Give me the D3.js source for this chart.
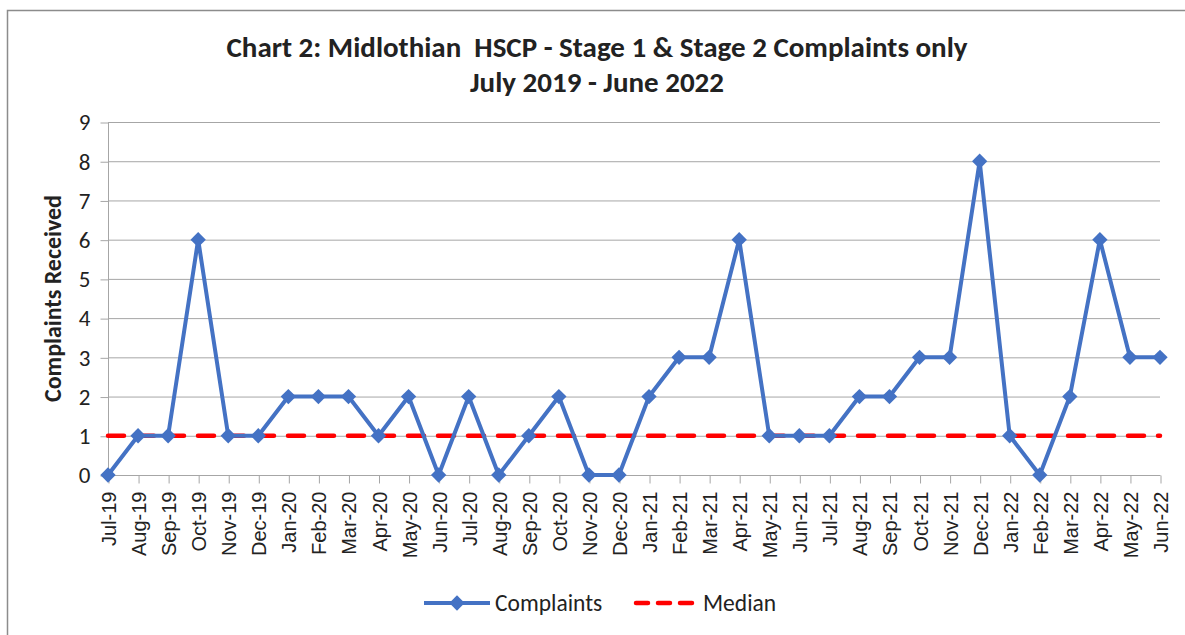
<!DOCTYPE html>
<html><head><meta charset="utf-8">
<script src="https://cdn.jsdelivr.net/npm/d3@7"></script>
<style>body{margin:0;background:#fff;}svg{display:block;} svg text{font-family:Carlito,Calibri,Lato,"Open Sans",sans-serif;} svg text.xl{font-family:"Liberation Sans",Arial,sans-serif;}</style>
</head><body><svg id="c" width="1185" height="635"></svg>
<script>
const months = ["Jul-19","Aug-19","Sep-19","Oct-19","Nov-19","Dec-19","Jan-20","Feb-20","Mar-20","Apr-20","May-20","Jun-20","Jul-20","Aug-20","Sep-20","Oct-20","Nov-20","Dec-20","Jan-21","Feb-21","Mar-21","Apr-21","May-21","Jun-21","Jul-21","Aug-21","Sep-21","Oct-21","Nov-21","Dec-21","Jan-22","Feb-22","Mar-22","Apr-22","May-22","Jun-22"];
const complaints = [0,1,1,6,1,1,2,2,2,1,2,0,2,0,1,2,0,0,2,3,3,6,1,1,1,2,2,3,3,8,1,0,2,6,3,3];
const median = [1,1,1,1,1,1,1,1,1,1,1,1,1,1,1,1,1,1,1,1,1,1,1,1,1,1,1,1,1,1,1,1,1,1,1,1];
const yTicks = [0,1,2,3,4,5,6,7,8,9];
const titleLines = ["Chart 2: Midlothian  HSCP - Stage 1 & Stage 2 Complaints only","July 2019 - June 2022"];
const yLabel = "Complaints Received";
const seriesNames = ["Complaints","Median"];

const svg = d3.select("#c");
const blue = "#4472C4", red = "#FF0000", grid = "#A6A6A6", txt = "#222";
const L = 108, R = 1160, T = 122, B = 475;

svg.append("rect").attr("x",7.5).attr("y",10.5).attr("width",1200).attr("height",700)
  .attr("fill","#fff").attr("stroke","#8c8c8c").attr("stroke-width",1.5);

const x = d3.scalePoint().domain(months).range([L,R]);
const y = d3.scaleLinear().domain([0,9]).range([B,T]);

// gridlines
svg.append("g").selectAll("line").data(yTicks).join("line")
  .attr("x1",L).attr("x2",R).attr("y1",d=>y(d)+0.5).attr("y2",d=>y(d)+0.5)
  .attr("stroke",grid).attr("stroke-width",1);

// y axis
const ya = svg.append("g").attr("transform",`translate(${L+0.5},0.5)`)
  .call(d3.axisLeft(y).tickValues(yTicks).tickSize(8).tickPadding(10).tickFormat(d3.format("d")));
ya.select(".domain").attr("stroke",grid).attr("d",`M-0,${T}V${B}`);
ya.selectAll(".tick line").attr("stroke",grid);
ya.selectAll("text").attr("font-size",23).attr("fill",txt).attr("font-family",null);

// x axis
const xa = svg.append("g").attr("transform",`translate(0.5,${B+0.5})`)
  .call(d3.axisBottom(x).tickSize(8).tickPadding(6));
xa.select(".domain").attr("stroke",grid).attr("d",`M${L},0H${R}`);
xa.selectAll(".tick line").attr("stroke",grid);
xa.selectAll("text").attr("class","xl").attr("font-size",20).attr("fill",txt).attr("font-family",null)
  .attr("transform","rotate(-90)").attr("text-anchor","end").attr("dy","0.35em")
  .attr("x",-16).attr("y",0);

// median line
svg.append("path").datum(median)
  .attr("d", d3.line().x((d,i)=>x(months[i])).y(d=>y(d)))
  .attr("fill","none").attr("stroke",red).attr("stroke-width",4.5)
  .attr("stroke-dasharray","16,14").attr("stroke-linecap","round");

// complaints line
svg.append("path").datum(complaints)
  .attr("d", d3.line().x((d,i)=>x(months[i])).y(d=>y(d)))
  .attr("fill","none").attr("stroke",blue).attr("stroke-width",4).attr("stroke-linejoin","round");

const diamond = d3.symbol().type(d3.symbolDiamond2).size(150);
svg.append("g").selectAll("path").data(complaints).join("path")
  .attr("d",diamond).attr("fill",blue)
  .attr("transform",(d,i)=>`translate(${x(months[i])},${y(d)})`);

// title
svg.append("g").selectAll("text").data(titleLines).join("text")
  .attr("x",597).attr("y",(d,i)=>57+i*35).attr("text-anchor","middle")
  .attr("font-size",29).attr("font-weight","bold").attr("fill",txt).style("white-space","pre").text(d=>d);

// y label
svg.append("text").attr("transform",`translate(61,${(T+B)/2}) rotate(-90)`)
  .attr("text-anchor","middle").attr("font-size",24).attr("font-weight","bold").attr("fill",txt).text(yLabel);

// legend
const lg = svg.append("g");
lg.append("line").attr("x1",424).attr("x2",490).attr("y1",603).attr("y2",603).attr("stroke",blue).attr("stroke-width",4);
lg.append("path").attr("d",diamond).attr("fill",blue).attr("transform","translate(457,603)");
lg.append("text").attr("x",495).attr("y",611).attr("font-size",23.5).attr("fill",txt).text(seriesNames[0]);
lg.append("line").attr("x1",636).attr("x2",696).attr("y1",603).attr("y2",603).attr("stroke",red).attr("stroke-width",4.5)
  .attr("stroke-dasharray","12,10").attr("stroke-linecap","round");
lg.append("text").attr("x",703).attr("y",611).attr("font-size",23.5).attr("fill",txt).text(seriesNames[1]);
</script></body></html>
